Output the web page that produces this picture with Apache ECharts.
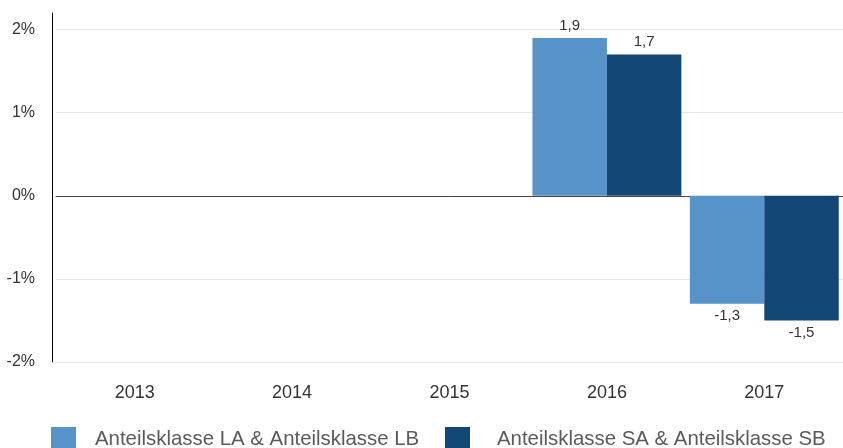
<!DOCTYPE html>
<html>
<head>
    <meta charset="utf-8">
    <title>Wertentwicklung</title>
    <script type="text/javascript" src="https://cdn.jsdelivr.net/npm/echarts@6/dist/echarts.min.js"></script>
    <style>
        body { margin: 0; background: #fff; }
    </style>
</head>
<body>
<div id="chartmain" style="width:843px; height:448px;"></div>
<script type="text/javascript">
// Jahre und Werte (in %)
var jahre = ['2013', '2014', '2015', '2016', '2017'];
var werteL = [null, null, null, 1.9, -1.3];
var werteS = [null, null, null, 1.7, -1.5];
var nameL = 'Anteilsklasse LA & Anteilsklasse LB';
var nameS = 'Anteilsklasse SA & Anteilsklasse SB';
var yTicks = [-2, -1, 0, 1, 2];

var schrift = '"Helvetica Neue", Helvetica, Arial, "Liberation Sans", sans-serif';

// Label oben bei positiven, unten bei negativen Werten
function mitLabel(arr) {
    return arr.map(function (v) {
        if (v === null) return null;
        return { value: v, label: { position: v < 0 ? 'bottom' : 'top' } };
    });
}

var labelStyle = {
    show: true,
    fontFamily: schrift,
    fontSize: 15,
    color: '#333',
    distance: 5,
    formatter: function (p) { return String(p.value).replace('.', ','); }
};

// eine Legende pro Eintrag, damit die Abstände wie im Original sitzen
function legende(name, links, abstand) {
    return {
        data: [name],
        left: links,
        top: 427,
        padding: 0,
        icon: 'rect',
        itemWidth: 25,
        itemHeight: 25,
        selectedMode: false,
        textStyle: { fontSize: 20.4, color: '#5a5a5a', fontFamily: schrift, padding: [0, 0, 0, abstand] }
    };
}

var option = {
    animation: false,
    textStyle: { fontFamily: schrift },
    grid: { left: 56, right: -1, top: 13, bottom: 86 },
    legend: [legende(nameL, 51, 14), legende(nameS, 445, 22)],
    xAxis: {
        type: 'category',
        data: jahre,
        axisLine: { onZero: true, lineStyle: { color: '#444', width: 1 } },
        axisTick: { show: false },
        axisLabel: {
            color: '#333', fontSize: 18, fontFamily: schrift,
            margin: 22
        }
    },
    yAxis: {
        type: 'value',
        min: yTicks[0],
        max: 2.2,
        interval: 1,
        offset: 4,
        axisLine: { show: true, lineStyle: { color: '#000', width: 1 } },
        axisTick: { show: false },
        axisLabel: {
            color: '#333', fontSize: 16, fontFamily: schrift, margin: 17,
            showMaxLabel: false,
            formatter: function (v) {
                return yTicks.indexOf(v) >= 0 ? v + '%' : '';
            }
        },
        splitLine: { show: true, showMaxLine: false, lineStyle: { color: '#e6e6e6', width: 1 } }
    },
    series: [
        {
            name: nameL,
            type: 'bar',
            data: mitLabel(werteL),
            itemStyle: { color: '#5593c9' },
            barGap: '0%',
            barCategoryGap: '5.4%',
            label: labelStyle
        },
        {
            name: nameS,
            type: 'bar',
            data: mitLabel(werteS),
            itemStyle: { color: '#114675' },
            barGap: '0%',
            barCategoryGap: '5.4%',
            label: labelStyle
        }
    ]
};

var myChart = echarts.init(document.getElementById('chartmain'));
myChart.setOption(option);
</script>
</body>
</html>
